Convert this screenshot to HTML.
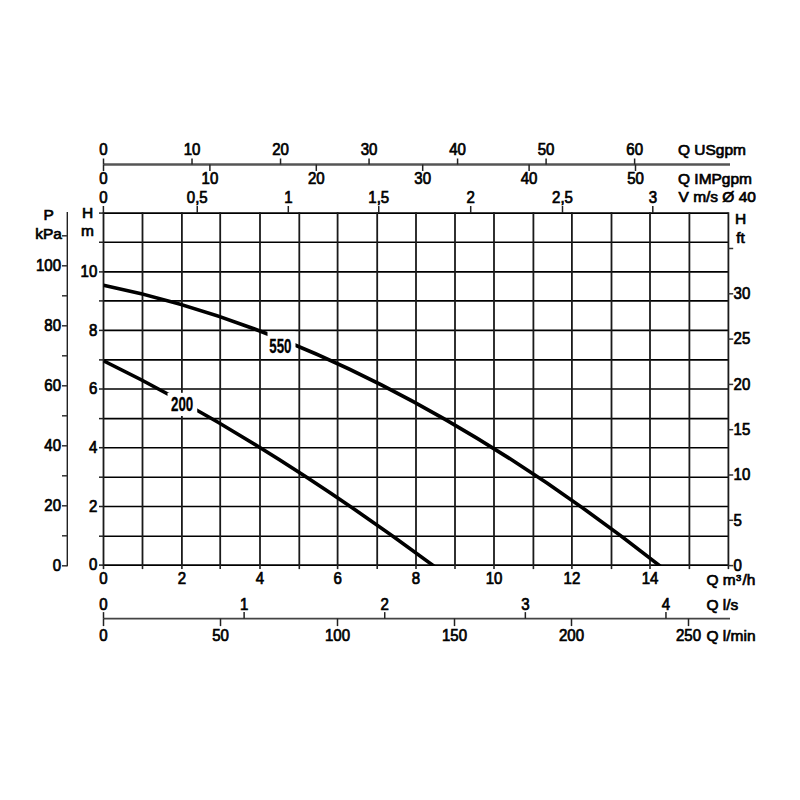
<!DOCTYPE html>
<html><head><meta charset="utf-8"><title>Pump curve</title>
<style>html,body{margin:0;padding:0;background:#fff;}svg{display:block;}
text{font-family:"Liberation Sans", Arial, sans-serif;fill:#000;stroke:#000;stroke-width:0.7px;}</style></head>
<body><svg width="800" height="800" viewBox="0 0 800 800">
<rect width="800" height="800" fill="#fff"/>
<line x1="103.50" y1="565.10" x2="728.40" y2="565.10" stroke="#000" stroke-width="1.6"/>
<line x1="103.50" y1="536.20" x2="728.40" y2="536.20" stroke="#000" stroke-width="1.6"/>
<line x1="103.50" y1="506.50" x2="728.40" y2="506.50" stroke="#000" stroke-width="1.6"/>
<line x1="103.50" y1="477.20" x2="728.40" y2="477.20" stroke="#000" stroke-width="1.6"/>
<line x1="103.50" y1="447.70" x2="728.40" y2="447.70" stroke="#000" stroke-width="1.6"/>
<line x1="103.50" y1="418.60" x2="728.40" y2="418.60" stroke="#000" stroke-width="1.6"/>
<line x1="103.50" y1="389.00" x2="728.40" y2="389.00" stroke="#000" stroke-width="1.6"/>
<line x1="103.50" y1="359.90" x2="728.40" y2="359.90" stroke="#000" stroke-width="1.6"/>
<line x1="103.50" y1="330.40" x2="728.40" y2="330.40" stroke="#000" stroke-width="1.6"/>
<line x1="103.50" y1="300.90" x2="728.40" y2="300.90" stroke="#000" stroke-width="1.6"/>
<line x1="103.50" y1="271.90" x2="728.40" y2="271.90" stroke="#000" stroke-width="1.6"/>
<line x1="103.50" y1="242.25" x2="728.40" y2="242.25" stroke="#000" stroke-width="1.6"/>
<line x1="103.50" y1="213.10" x2="728.40" y2="213.10" stroke="#000" stroke-width="1.6"/>
<line x1="103.50" y1="212.30" x2="103.50" y2="565.90" stroke="#1a1a1a" stroke-width="1.8"/>
<line x1="142.50" y1="212.30" x2="142.50" y2="565.90" stroke="#1a1a1a" stroke-width="1.8"/>
<line x1="181.90" y1="212.30" x2="181.90" y2="565.90" stroke="#1a1a1a" stroke-width="1.8"/>
<line x1="220.20" y1="212.30" x2="220.20" y2="565.90" stroke="#1a1a1a" stroke-width="1.8"/>
<line x1="260.00" y1="212.30" x2="260.00" y2="565.90" stroke="#1a1a1a" stroke-width="1.8"/>
<line x1="299.30" y1="212.30" x2="299.30" y2="565.90" stroke="#1a1a1a" stroke-width="1.8"/>
<line x1="337.60" y1="212.30" x2="337.60" y2="565.90" stroke="#1a1a1a" stroke-width="1.8"/>
<line x1="377.20" y1="212.30" x2="377.20" y2="565.90" stroke="#1a1a1a" stroke-width="1.8"/>
<line x1="416.00" y1="212.30" x2="416.00" y2="565.90" stroke="#1a1a1a" stroke-width="1.8"/>
<line x1="455.00" y1="212.30" x2="455.00" y2="565.90" stroke="#1a1a1a" stroke-width="1.8"/>
<line x1="494.00" y1="212.30" x2="494.00" y2="565.90" stroke="#1a1a1a" stroke-width="1.8"/>
<line x1="533.40" y1="212.30" x2="533.40" y2="565.90" stroke="#1a1a1a" stroke-width="1.8"/>
<line x1="571.90" y1="212.30" x2="571.90" y2="565.90" stroke="#1a1a1a" stroke-width="1.8"/>
<line x1="611.50" y1="212.30" x2="611.50" y2="565.90" stroke="#1a1a1a" stroke-width="1.8"/>
<line x1="650.00" y1="212.30" x2="650.00" y2="565.90" stroke="#1a1a1a" stroke-width="1.8"/>
<line x1="689.40" y1="212.30" x2="689.40" y2="565.90" stroke="#1a1a1a" stroke-width="1.8"/>
<line x1="728.40" y1="212.30" x2="728.40" y2="565.90" stroke="#1a1a1a" stroke-width="1.8"/>
<line x1="103.50" y1="565.10" x2="103.50" y2="569.10" stroke="#222" stroke-width="1.6"/>
<line x1="142.50" y1="565.10" x2="142.50" y2="569.10" stroke="#222" stroke-width="1.6"/>
<line x1="181.90" y1="565.10" x2="181.90" y2="569.10" stroke="#222" stroke-width="1.6"/>
<line x1="220.20" y1="565.10" x2="220.20" y2="569.10" stroke="#222" stroke-width="1.6"/>
<line x1="260.00" y1="565.10" x2="260.00" y2="569.10" stroke="#222" stroke-width="1.6"/>
<line x1="299.30" y1="565.10" x2="299.30" y2="569.10" stroke="#222" stroke-width="1.6"/>
<line x1="337.60" y1="565.10" x2="337.60" y2="569.10" stroke="#222" stroke-width="1.6"/>
<line x1="377.20" y1="565.10" x2="377.20" y2="569.10" stroke="#222" stroke-width="1.6"/>
<line x1="416.00" y1="565.10" x2="416.00" y2="569.10" stroke="#222" stroke-width="1.6"/>
<line x1="455.00" y1="565.10" x2="455.00" y2="569.10" stroke="#222" stroke-width="1.6"/>
<line x1="494.00" y1="565.10" x2="494.00" y2="569.10" stroke="#222" stroke-width="1.6"/>
<line x1="533.40" y1="565.10" x2="533.40" y2="569.10" stroke="#222" stroke-width="1.6"/>
<line x1="571.90" y1="565.10" x2="571.90" y2="569.10" stroke="#222" stroke-width="1.6"/>
<line x1="611.50" y1="565.10" x2="611.50" y2="569.10" stroke="#222" stroke-width="1.6"/>
<line x1="650.00" y1="565.10" x2="650.00" y2="569.10" stroke="#222" stroke-width="1.6"/>
<line x1="689.40" y1="565.10" x2="689.40" y2="569.10" stroke="#222" stroke-width="1.6"/>
<line x1="728.40" y1="565.10" x2="728.40" y2="569.10" stroke="#222" stroke-width="1.6"/>
<line x1="99.00" y1="565.10" x2="103.50" y2="565.10" stroke="#222" stroke-width="1.5"/>
<line x1="99.00" y1="536.20" x2="103.50" y2="536.20" stroke="#222" stroke-width="1.5"/>
<line x1="99.00" y1="506.50" x2="103.50" y2="506.50" stroke="#222" stroke-width="1.5"/>
<line x1="99.00" y1="477.20" x2="103.50" y2="477.20" stroke="#222" stroke-width="1.5"/>
<line x1="99.00" y1="447.70" x2="103.50" y2="447.70" stroke="#222" stroke-width="1.5"/>
<line x1="99.00" y1="418.60" x2="103.50" y2="418.60" stroke="#222" stroke-width="1.5"/>
<line x1="99.00" y1="389.00" x2="103.50" y2="389.00" stroke="#222" stroke-width="1.5"/>
<line x1="99.00" y1="359.90" x2="103.50" y2="359.90" stroke="#222" stroke-width="1.5"/>
<line x1="99.00" y1="330.40" x2="103.50" y2="330.40" stroke="#222" stroke-width="1.5"/>
<line x1="99.00" y1="300.90" x2="103.50" y2="300.90" stroke="#222" stroke-width="1.5"/>
<line x1="99.00" y1="271.90" x2="103.50" y2="271.90" stroke="#222" stroke-width="1.5"/>
<line x1="99.00" y1="242.25" x2="103.50" y2="242.25" stroke="#222" stroke-width="1.5"/>
<line x1="99.00" y1="213.10" x2="103.50" y2="213.10" stroke="#222" stroke-width="1.5"/>
<line x1="728.40" y1="565.60" x2="733.20" y2="565.60" stroke="#333" stroke-width="1.5"/>
<line x1="728.40" y1="520.30" x2="733.20" y2="520.30" stroke="#333" stroke-width="1.5"/>
<line x1="728.40" y1="475.00" x2="733.20" y2="475.00" stroke="#333" stroke-width="1.5"/>
<line x1="728.40" y1="429.70" x2="733.20" y2="429.70" stroke="#333" stroke-width="1.5"/>
<line x1="728.40" y1="384.40" x2="733.20" y2="384.40" stroke="#333" stroke-width="1.5"/>
<line x1="728.40" y1="339.10" x2="733.20" y2="339.10" stroke="#333" stroke-width="1.5"/>
<line x1="728.40" y1="293.80" x2="733.20" y2="293.80" stroke="#333" stroke-width="1.5"/>
<line x1="728.40" y1="248.50" x2="733.20" y2="248.50" stroke="#333" stroke-width="1.5"/>
<line x1="67.30" y1="212" x2="67.30" y2="566.3" stroke="#222" stroke-width="1.4"/>
<line x1="62.00" y1="565.80" x2="67.30" y2="565.80" stroke="#333" stroke-width="1.5"/>
<line x1="62.00" y1="535.80" x2="67.30" y2="535.80" stroke="#333" stroke-width="1.5"/>
<line x1="62.00" y1="505.80" x2="67.30" y2="505.80" stroke="#333" stroke-width="1.5"/>
<line x1="62.00" y1="475.80" x2="67.30" y2="475.80" stroke="#333" stroke-width="1.5"/>
<line x1="62.00" y1="445.80" x2="67.30" y2="445.80" stroke="#333" stroke-width="1.5"/>
<line x1="62.00" y1="415.80" x2="67.30" y2="415.80" stroke="#333" stroke-width="1.5"/>
<line x1="62.00" y1="385.80" x2="67.30" y2="385.80" stroke="#333" stroke-width="1.5"/>
<line x1="62.00" y1="355.80" x2="67.30" y2="355.80" stroke="#333" stroke-width="1.5"/>
<line x1="62.00" y1="325.80" x2="67.30" y2="325.80" stroke="#333" stroke-width="1.5"/>
<line x1="62.00" y1="295.80" x2="67.30" y2="295.80" stroke="#333" stroke-width="1.5"/>
<line x1="62.00" y1="265.80" x2="67.30" y2="265.80" stroke="#333" stroke-width="1.5"/>
<line x1="62.00" y1="235.80" x2="67.30" y2="235.80" stroke="#333" stroke-width="1.5"/>
<text transform="translate(61.00,571.10) scale(0.97,1.04)" text-anchor="end" font-size="15.5" >0</text>
<text transform="translate(61.00,511.10) scale(0.97,1.04)" text-anchor="end" font-size="15.5" >20</text>
<text transform="translate(61.00,451.10) scale(0.97,1.04)" text-anchor="end" font-size="15.5" >40</text>
<text transform="translate(61.00,391.10) scale(0.97,1.04)" text-anchor="end" font-size="15.5" >60</text>
<text transform="translate(61.00,331.10) scale(0.97,1.04)" text-anchor="end" font-size="15.5" >80</text>
<text transform="translate(61.00,271.10) scale(0.97,1.04)" text-anchor="end" font-size="15.5" >100</text>
<text transform="translate(48.70,220.00) scale(1.0,0.97)" text-anchor="middle" font-size="15.5" >P</text>
<text transform="translate(48.50,239.00) scale(1.0,0.97)" text-anchor="middle" font-size="15.5" >kPa</text>
<text transform="translate(97.30,570.40) scale(0.97,1.04)" text-anchor="end" font-size="15.5" >0</text>
<text transform="translate(97.30,511.80) scale(0.97,1.04)" text-anchor="end" font-size="15.5" >2</text>
<text transform="translate(97.30,453.00) scale(0.97,1.04)" text-anchor="end" font-size="15.5" >4</text>
<text transform="translate(97.30,394.30) scale(0.97,1.04)" text-anchor="end" font-size="15.5" >6</text>
<text transform="translate(97.30,335.70) scale(0.97,1.04)" text-anchor="end" font-size="15.5" >8</text>
<text transform="translate(97.30,277.20) scale(0.97,1.04)" text-anchor="end" font-size="15.5" >10</text>
<text transform="translate(87.50,217.90) scale(1.0,0.97)" text-anchor="middle" font-size="15.5" >H</text>
<text transform="translate(87.50,236.10) scale(1.0,0.97)" text-anchor="middle" font-size="15.5" >m</text>
<text transform="translate(733.60,570.90) scale(0.97,1.04)" text-anchor="start" font-size="15.5" >0</text>
<text transform="translate(733.60,525.60) scale(0.97,1.04)" text-anchor="start" font-size="15.5" >5</text>
<text transform="translate(733.60,480.30) scale(0.97,1.04)" text-anchor="start" font-size="15.5" >10</text>
<text transform="translate(733.60,435.00) scale(0.97,1.04)" text-anchor="start" font-size="15.5" >15</text>
<text transform="translate(733.60,389.70) scale(0.97,1.04)" text-anchor="start" font-size="15.5" >20</text>
<text transform="translate(733.60,344.40) scale(0.97,1.04)" text-anchor="start" font-size="15.5" >25</text>
<text transform="translate(733.60,299.10) scale(0.97,1.04)" text-anchor="start" font-size="15.5" >30</text>
<text transform="translate(735.00,224.00) scale(1.0,0.97)" text-anchor="start" font-size="15.5" >H</text>
<text transform="translate(736.20,243.20) scale(1.0,0.97)" text-anchor="start" font-size="15.5" >ft</text>
<text transform="translate(103.50,584.00) scale(0.97,1.04)" text-anchor="middle" font-size="15.5" >0</text>
<text transform="translate(181.90,584.00) scale(0.97,1.04)" text-anchor="middle" font-size="15.5" >2</text>
<text transform="translate(260.00,584.00) scale(0.97,1.04)" text-anchor="middle" font-size="15.5" >4</text>
<text transform="translate(337.60,584.00) scale(0.97,1.04)" text-anchor="middle" font-size="15.5" >6</text>
<text transform="translate(416.00,584.00) scale(0.97,1.04)" text-anchor="middle" font-size="15.5" >8</text>
<text transform="translate(494.00,584.00) scale(0.97,1.04)" text-anchor="middle" font-size="15.5" >10</text>
<text transform="translate(571.90,584.00) scale(0.97,1.04)" text-anchor="middle" font-size="15.5" >12</text>
<text transform="translate(650.00,584.00) scale(0.97,1.04)" text-anchor="middle" font-size="15.5" >14</text>
<text transform="translate(706.50,584.50) scale(1.0,0.97)" text-anchor="start" font-size="15.5" >Q m<tspan font-size="9.5" dy="-4.0" dx="0.3">3</tspan><tspan dy="4.0" dx="1.2">/h</tspan></text>
<line x1="103.50" y1="164.50" x2="730" y2="164.50" stroke="#555" stroke-width="2.6"/>
<line x1="103.50" y1="158.50" x2="103.50" y2="164.50" stroke="#222" stroke-width="1.5"/>
<text transform="translate(103.50,154.60) scale(0.97,1.04)" text-anchor="middle" font-size="15.5" >0</text>
<line x1="192.02" y1="158.50" x2="192.02" y2="164.50" stroke="#222" stroke-width="1.5"/>
<text transform="translate(192.02,154.60) scale(0.97,1.04)" text-anchor="middle" font-size="15.5" >10</text>
<line x1="280.54" y1="158.50" x2="280.54" y2="164.50" stroke="#222" stroke-width="1.5"/>
<text transform="translate(280.54,154.60) scale(0.97,1.04)" text-anchor="middle" font-size="15.5" >20</text>
<line x1="369.06" y1="158.50" x2="369.06" y2="164.50" stroke="#222" stroke-width="1.5"/>
<text transform="translate(369.06,154.60) scale(0.97,1.04)" text-anchor="middle" font-size="15.5" >30</text>
<line x1="457.58" y1="158.50" x2="457.58" y2="164.50" stroke="#222" stroke-width="1.5"/>
<text transform="translate(457.58,154.60) scale(0.97,1.04)" text-anchor="middle" font-size="15.5" >40</text>
<line x1="546.10" y1="158.50" x2="546.10" y2="164.50" stroke="#222" stroke-width="1.5"/>
<text transform="translate(546.10,154.60) scale(0.97,1.04)" text-anchor="middle" font-size="15.5" >50</text>
<line x1="634.62" y1="158.50" x2="634.62" y2="164.50" stroke="#222" stroke-width="1.5"/>
<text transform="translate(634.62,154.60) scale(0.97,1.04)" text-anchor="middle" font-size="15.5" >60</text>
<line x1="103.50" y1="164.50" x2="103.50" y2="171.00" stroke="#222" stroke-width="1.5"/>
<text transform="translate(103.50,184.00) scale(0.97,1.04)" text-anchor="middle" font-size="15.5" >0</text>
<line x1="209.90" y1="164.50" x2="209.90" y2="171.00" stroke="#222" stroke-width="1.5"/>
<text transform="translate(209.90,184.00) scale(0.97,1.04)" text-anchor="middle" font-size="15.5" >10</text>
<line x1="316.30" y1="164.50" x2="316.30" y2="171.00" stroke="#222" stroke-width="1.5"/>
<text transform="translate(316.30,184.00) scale(0.97,1.04)" text-anchor="middle" font-size="15.5" >20</text>
<line x1="422.70" y1="164.50" x2="422.70" y2="171.00" stroke="#222" stroke-width="1.5"/>
<text transform="translate(422.70,184.00) scale(0.97,1.04)" text-anchor="middle" font-size="15.5" >30</text>
<line x1="529.10" y1="164.50" x2="529.10" y2="171.00" stroke="#222" stroke-width="1.5"/>
<text transform="translate(529.10,184.00) scale(0.97,1.04)" text-anchor="middle" font-size="15.5" >40</text>
<line x1="635.50" y1="164.50" x2="635.50" y2="171.00" stroke="#222" stroke-width="1.5"/>
<text transform="translate(635.50,184.00) scale(0.97,1.04)" text-anchor="middle" font-size="15.5" >50</text>
<text transform="translate(678.00,154.80) scale(1.0,0.97)" text-anchor="start" font-size="15.5" >Q USgpm</text>
<text transform="translate(678.00,183.70) scale(1.0,0.97)" text-anchor="start" font-size="15.5" >Q IMPgpm</text>
<text transform="translate(678.50,201.80) scale(1.0,0.97)" text-anchor="start" font-size="15.5" >V m/s &#216; 40</text>
<line x1="103.40" y1="206" x2="103.40" y2="213.10" stroke="#222" stroke-width="1.5"/>
<text transform="translate(103.40,203.30) scale(0.97,1.04)" text-anchor="middle" font-size="15.5" >0</text>
<line x1="197.25" y1="206" x2="197.25" y2="213.10" stroke="#222" stroke-width="1.5"/>
<text transform="translate(197.25,203.30) scale(0.97,1.04)" text-anchor="middle" font-size="15.5" >0,5</text>
<line x1="288.30" y1="206" x2="288.30" y2="213.10" stroke="#222" stroke-width="1.5"/>
<text transform="translate(288.30,203.30) scale(0.97,1.04)" text-anchor="middle" font-size="15.5" >1</text>
<line x1="378.75" y1="206" x2="378.75" y2="213.10" stroke="#222" stroke-width="1.5"/>
<text transform="translate(378.75,203.30) scale(0.97,1.04)" text-anchor="middle" font-size="15.5" >1,5</text>
<line x1="470.70" y1="206" x2="470.70" y2="213.10" stroke="#222" stroke-width="1.5"/>
<text transform="translate(470.70,203.30) scale(0.97,1.04)" text-anchor="middle" font-size="15.5" >2</text>
<line x1="562.50" y1="206" x2="562.50" y2="213.10" stroke="#222" stroke-width="1.5"/>
<text transform="translate(562.50,203.30) scale(0.97,1.04)" text-anchor="middle" font-size="15.5" >2,5</text>
<line x1="652.80" y1="206" x2="652.80" y2="213.10" stroke="#222" stroke-width="1.5"/>
<text transform="translate(652.80,203.30) scale(0.97,1.04)" text-anchor="middle" font-size="15.5" >3</text>
<line x1="103.50" y1="618.60" x2="730" y2="618.60" stroke="#444" stroke-width="1.6"/>
<line x1="103.50" y1="612.10" x2="103.50" y2="618.60" stroke="#222" stroke-width="1.5"/>
<text transform="translate(103.50,610.30) scale(0.97,1.04)" text-anchor="middle" font-size="15.5" >0</text>
<line x1="244.12" y1="612.10" x2="244.12" y2="618.60" stroke="#222" stroke-width="1.5"/>
<text transform="translate(244.12,610.30) scale(0.97,1.04)" text-anchor="middle" font-size="15.5" >1</text>
<line x1="384.73" y1="612.10" x2="384.73" y2="618.60" stroke="#222" stroke-width="1.5"/>
<text transform="translate(384.73,610.30) scale(0.97,1.04)" text-anchor="middle" font-size="15.5" >2</text>
<line x1="525.35" y1="612.10" x2="525.35" y2="618.60" stroke="#222" stroke-width="1.5"/>
<text transform="translate(525.35,610.30) scale(0.97,1.04)" text-anchor="middle" font-size="15.5" >3</text>
<line x1="665.96" y1="612.10" x2="665.96" y2="618.60" stroke="#222" stroke-width="1.5"/>
<text transform="translate(665.96,610.30) scale(0.97,1.04)" text-anchor="middle" font-size="15.5" >4</text>
<line x1="103.50" y1="618.60" x2="103.50" y2="626.10" stroke="#222" stroke-width="1.5"/>
<text transform="translate(103.50,641.00) scale(0.97,1.04)" text-anchor="middle" font-size="15.5" >0</text>
<line x1="220.50" y1="618.60" x2="220.50" y2="626.10" stroke="#222" stroke-width="1.5"/>
<text transform="translate(220.50,641.00) scale(0.97,1.04)" text-anchor="middle" font-size="15.5" >50</text>
<line x1="337.50" y1="618.60" x2="337.50" y2="626.10" stroke="#222" stroke-width="1.5"/>
<text transform="translate(337.50,641.00) scale(0.97,1.04)" text-anchor="middle" font-size="15.5" >100</text>
<line x1="454.50" y1="618.60" x2="454.50" y2="626.10" stroke="#222" stroke-width="1.5"/>
<text transform="translate(454.50,641.00) scale(0.97,1.04)" text-anchor="middle" font-size="15.5" >150</text>
<line x1="571.50" y1="618.60" x2="571.50" y2="626.10" stroke="#222" stroke-width="1.5"/>
<text transform="translate(571.50,641.00) scale(0.97,1.04)" text-anchor="middle" font-size="15.5" >200</text>
<line x1="688.50" y1="618.60" x2="688.50" y2="626.10" stroke="#222" stroke-width="1.5"/>
<text transform="translate(688.50,641.00) scale(0.97,1.04)" text-anchor="middle" font-size="15.5" >250</text>
<text transform="translate(706.50,610.30) scale(1.0,0.97)" text-anchor="start" font-size="15.5" >Q l/s</text>
<text transform="translate(706.50,641.00) scale(1.0,0.97)" text-anchor="start" font-size="15.5" >Q l/min</text>
<clipPath id="pc"><rect x="103.50" y="213.10" width="624.90" height="352.60"/></clipPath>
<path d="M103.50,285.23 C289.91,323.29 476.32,420.76 662.73,568.10" fill="none" stroke="#000" stroke-width="3.6" clip-path="url(#pc)"/>
<path d="M103.50,360.81 C214.56,414.75 325.61,485.70 436.67,568.10" fill="none" stroke="#000" stroke-width="3.6" clip-path="url(#pc)"/>
<rect x="267.5" y="331.6" width="28" height="27.4" fill="#fff"/>
<rect x="167.5" y="392.8" width="29.7" height="23.2" fill="#fff"/>
<text x="0" y="0" font-size="20.5" font-weight="bold" style="stroke-width:0.3px" transform="translate(269.3,352.7) scale(0.65,1)">550</text>
<text x="0" y="0" font-size="20.5" font-weight="bold" style="stroke-width:0.3px" transform="translate(171.0,411.2) scale(0.65,1)">200</text>
</svg></body></html>
